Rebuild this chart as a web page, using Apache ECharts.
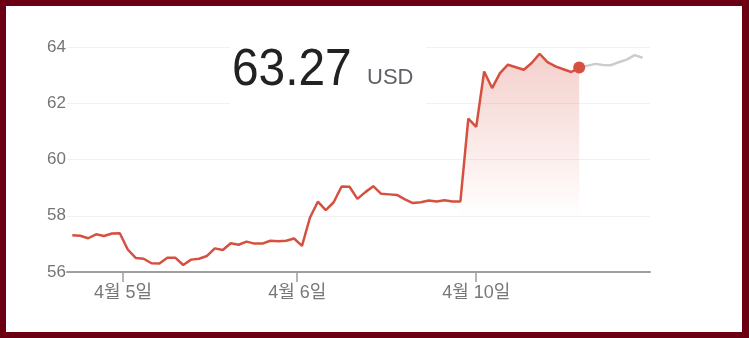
<!DOCTYPE html>
<html><head><meta charset="utf-8">
<script src="https://cdn.jsdelivr.net/npm/echarts@6/dist/echarts.min.js"></script>
<style>
html,body{margin:0;padding:0;background:#6b0013;width:749px;height:338px;overflow:hidden;}
#bg{position:absolute;left:6px;top:6px;width:736px;height:326px;background:#fff;}
#chart{position:absolute;left:0;top:0;width:749px;height:338px;}
</style></head><body>
<div id="bg"></div><div id="chart"></div>
<script>
// Session prices (red), index = sample number
const priceValues = [
  57.31, 57.29, 57.20, 57.34, 57.28, 57.37, 57.38, 56.80, 56.50, 56.47,
  56.31, 56.30, 56.51, 56.51, 56.25, 56.44, 56.47, 56.57, 56.84, 56.78,
  57.02, 56.97, 57.08, 57.01, 57.01, 57.11, 57.09, 57.11, 57.19, 56.93,
  57.93, 58.50, 58.20, 58.48, 59.04, 59.03, 58.60, 58.84, 59.05, 58.78,
  58.76, 58.74, 58.58, 58.45, 58.48, 58.54, 58.51, 58.55, 58.51, 58.51,
  61.45, 61.16, 63.13, 62.54, 63.07, 63.37, 63.28, 63.19, 63.43, 63.76,
  63.46, 63.31, 63.21, 63.11, 63.27
];
// After-hours prices (gray), continuing from the last session point
const afterHoursValues = [63.27, 63.33, 63.40, 63.36, 63.35, 63.46, 63.55, 63.71, 63.62];
const areaStartIndex = 49;
const tickPositions = [6.4, 28.4, 51.0];
const tickLabels = ['4월 5일', '4월 6일', '4월 10일'];
const yMin = 56, yMax = 64, yStep = 2;
const currentPrice = '63.27';
const currency = 'USD';

const red = '#d6503f';
const lastIdx = priceValues.length - 1;
const redData = priceValues.map((v, i) => [i, v]);
const grayData = afterHoursValues.map((v, i) => [lastIdx + i, v]);
const areaData = priceValues.slice(areaStartIndex).map((v, i) => [areaStartIndex + i, v]);
const labelFor = v => {
  let best = 0;
  tickPositions.forEach((p, i) => { if (Math.abs(p - v) < Math.abs(tickPositions[best] - v)) best = i; });
  return tickLabels[best];
};

const chart = echarts.init(document.getElementById('chart'), null, {renderer: 'canvas'});
chart.setOption({
  animation: false,
  grid: {left: 67, right: 99, top: 47, bottom: 66},
  xAxis: {
    type: 'value', min: -0.67, max: 72.94,
    splitLine: {show: false},
    axisLine: {show: true, lineStyle: {color: '#9e9e9e', width: 2}},
    axisTick: {show: true, customValues: tickPositions, length: 10, lineStyle: {color: '#9e9e9e', width: 1.5}},
    axisLabel: {customValues: tickPositions, formatter: labelFor, color: '#777', fontSize: 18,
      fontFamily: 'Arial, "Noto Sans CJK KR"', margin: 12}
  },
  yAxis: {
    type: 'value', min: yMin, max: yMax, interval: yStep,
    axisLine: {show: false}, axisTick: {show: false},
    splitLine: {lineStyle: {color: '#f1f1f1', width: 1}},
    axisLabel: {color: '#757575', fontSize: 17, fontFamily: 'Arial', margin: 1}
  },
  series: [
    {type: 'line', data: areaData, showSymbol: false, lineStyle: {width: 0}, z: 1,
     areaStyle: {color: new echarts.graphic.LinearGradient(0, 0, 0, 1, [
       {offset: 0, color: 'rgba(214,80,63,0.38)'},
       {offset: 0.75, color: 'rgba(214,80,63,0.0)'},
       {offset: 1, color: 'rgba(214,80,63,0.0)'}])}},
    {type: 'line', data: grayData, showSymbol: false, z: 2,
     lineStyle: {color: '#cccccc', width: 2.5}},
    {type: 'line', data: redData, showSymbol: false, z: 3,
     lineStyle: {color: red, width: 2.5}},
    {type: 'scatter', data: [redData[lastIdx]], symbolSize: 12, z: 4,
     itemStyle: {color: red, opacity: 1}}
  ],
  graphic: [
    {type: 'rect', shape: {x: 230, y: 44, width: 196, height: 62}, style: {fill: '#fff'}, z: 100},
    {type: 'text', x: 232, y: 71, z: 101, scaleX: 0.92,
     style: {text: currentPrice, fontSize: 52, fontFamily: 'Arial', fill: '#222', verticalAlign: 'middle', align: 'left'}},
    {type: 'text', x: 367, y: 78, z: 101,
     style: {text: currency, fontSize: 22, fontFamily: 'Arial', fill: '#5f6368', verticalAlign: 'middle', align: 'left'}}
  ]
});
</script>
</body></html>
